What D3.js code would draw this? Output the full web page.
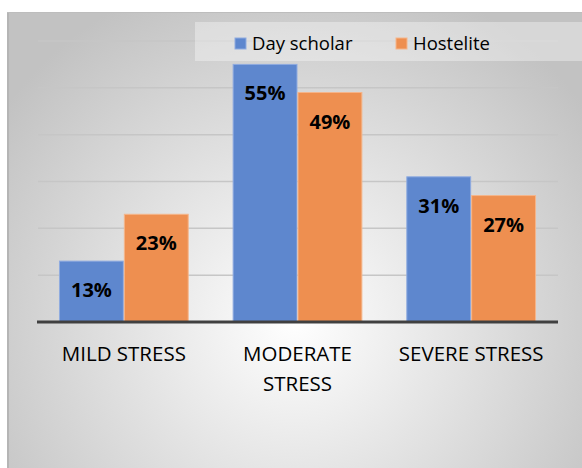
<!DOCTYPE html>
<html><head><meta charset="utf-8">
<script src="https://cdn.jsdelivr.net/npm/d3@7"></script>
<style>html,body{margin:0;padding:0;background:#fff;}svg{display:block;}</style>
</head><body>
<script>
const categories = [["MILD STRESS"], ["MODERATE", "STRESS"], ["SEVERE STRESS"]];
const seriesNames = ["Day scholar", "Hostelite"];
const dayScholar = [13, 55, 31];
const hostelite = [23, 49, 27];
const yTicks = [0, 10, 20, 30, 40, 50, 60];
const colors = ["#5E87CE", "#EE8F50"];

const W = 582, H = 468;
const svg = d3.select("body").append("svg").attr("width", W).attr("height", H);
const defs = svg.append("defs");
const rg = defs.append("radialGradient").attr("id", "bg").attr("gradientUnits", "userSpaceOnUse")
  .attr("cx", 295).attr("cy", 320).attr("r", 360);
rg.append("stop").attr("offset", "0%").attr("stop-color", "#ffffff");
rg.append("stop").attr("offset", "100%").attr("stop-color", "#c2c2c2");

svg.append("rect").attr("x", 7).attr("y", 12).attr("width", W - 7).attr("height", H - 12)
  .attr("fill", "url(#bg)");
svg.append("line").attr("x1", 8).attr("x2", 8).attr("y1", 12).attr("y2", H).attr("stroke", "#b5b5b5").attr("stroke-width", 2);
svg.append("line").attr("x1", 7).attr("x2", W).attr("y1", 12.5).attr("y2", 12.5).attr("stroke", "#bdbdbd").attr("stroke-width", 1);

const left = 37, right = 558, base = 322;
const y = d3.scaleLinear().domain([0, 60]).range([base, 41]);
const x0 = d3.scaleBand().domain(d3.range(categories.length)).range([left, right])
  .paddingInner(0.253).paddingOuter(0.1265);
const x1 = d3.scaleBand().domain(d3.range(seriesNames.length)).range([0, x0.bandwidth()]);

// gridlines
svg.append("g").selectAll("line").data(yTicks.filter(t => t > 0)).join("line")
  .attr("x1", left + 1).attr("x2", right).attr("y1", d => y(d)).attr("y2", d => y(d))
  .attr("stroke", "#c6c6c6").attr("stroke-width", 1.5);

const data = categories.map((c, i) => [dayScholar[i], hostelite[i]]);
const groups = svg.append("g").selectAll("g").data(data).join("g")
  .attr("transform", (d, i) => `translate(${x0(i)},0)`);
groups.selectAll("rect").data(d => d).join("rect")
  .attr("x", (d, j) => x1(j) + 0.5).attr("width", x1.bandwidth() - 1)
  .attr("y", d => y(d)).attr("height", d => base - y(d))
  .attr("fill", (d, j) => colors[j])
  .attr("stroke", (d, j) => j === 0 ? "#8fabe0" : "#f5b58a").attr("stroke-width", 1);
groups.selectAll("text").data(d => d).join("text")
  .attr("x", (d, j) => x1(j) + x1.bandwidth() / 2)
  .attr("y", d => y(d) + 36)
  .attr("text-anchor", "middle")
  .attr("font-family", "'Open Sans', sans-serif").attr("font-weight", "bold").attr("font-size", 20)
  .attr("fill", "#000").text(d => d + "%");

// baseline
svg.append("line").attr("x1", left).attr("x2", right).attr("y1", base).attr("y2", base)
  .attr("stroke", "#404040").attr("stroke-width", 3);

// x labels
const xl = svg.append("g").selectAll("text").data(categories).join("text")
  .attr("x", (d, i) => x0(i) + x0.bandwidth() / 2).attr("y", 361)
  .attr("text-anchor", "middle").attr("font-family", "'Open Sans', sans-serif")
  .attr("font-size", 20.5).attr("fill", "#000");
xl.selectAll("tspan").data(d => d).join("tspan")
  .attr("x", function () { return this.parentNode.getAttribute("x"); })
  .attr("dy", (d, k) => k === 0 ? 0 : 30).text(d => d);

// legend
svg.append("rect").attr("x", 195).attr("y", 22).attr("width", W - 195).attr("height", 39)
  .attr("fill", "#ffffff").attr("opacity", 0.35);
const legX = [235, 396];
const lg = svg.append("g").selectAll("g").data(seriesNames).join("g")
  .attr("transform", (d, i) => `translate(${legX[i]},38)`);
lg.append("rect").attr("width", 11).attr("height", 11).attr("fill", (d, i) => colors[i])
  .attr("stroke", (d, i) => i === 0 ? "#8fabe0" : "#f5b58a");
lg.append("text").attr("x", 17).attr("y", 12).attr("font-family", "'Open Sans', sans-serif")
  .attr("font-size", 18.5).attr("fill", "#000").text(d => d);
</script>
</body></html>
